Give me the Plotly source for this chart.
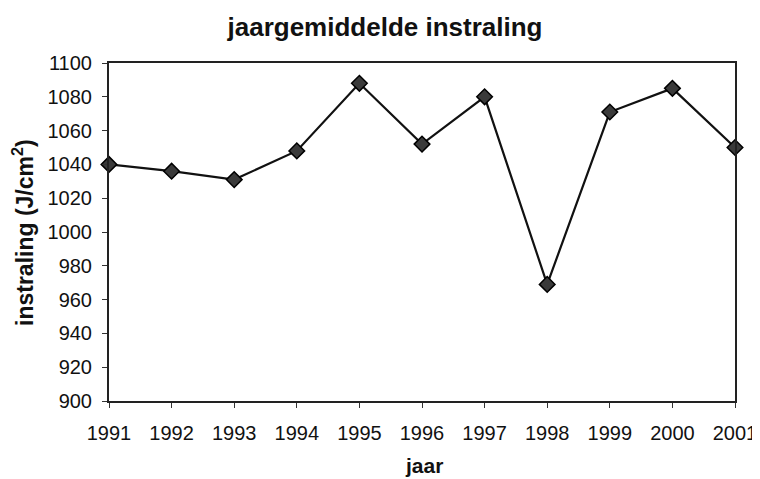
import plotly.graph_objects as go

years = [1991, 1992, 1993, 1994, 1995, 1996, 1997, 1998, 1999, 2000, 2001]
instraling = [1040, 1036, 1031, 1048, 1088, 1052, 1080, 969, 1071, 1085, 1050]
y_ticks = [900, 920, 940, 960, 980, 1000, 1020, 1040, 1060, 1080, 1100]

FONT = "Liberation Sans, Arial, sans-serif"
# page has an 8px body margin: figure coordinates = screen - 8
OFF = 8
W, H = 760 - OFF, 479 - OFF
L, T = 109 - OFF, 63 - OFF
R = W - (735 - OFF)
B = H - (401 - OFF)
PW, PH = W - L - R, H - T - B


def px_x(sx):
    return (sx - OFF - L) / PW


def px_y(sy):
    return (H - B - (sy - OFF)) / PH


fig = go.Figure()
fig.add_trace(go.Scatter(
    x=years, y=instraling, mode="lines+markers",
    line=dict(color="#111111", width=2.2),
    marker=dict(symbol="diamond", size=12, color="#3a3a3a",
                line=dict(color="#000000", width=1.5)),
    cliponaxis=False, showlegend=False,
))

fig.update_layout(
    width=W, height=H,
    margin=dict(l=L, r=R, t=T, b=B, autoexpand=False),
    paper_bgcolor="white", plot_bgcolor="white",
    font=dict(family=FONT, color="#111111"),
    title=dict(text="<b>jaargemiddelde instraling</b>", x=(385 - OFF) / W, xanchor="center",
               y=1 - (27 - OFF) / H, yanchor="middle", font=dict(size=26, family=FONT, color="#111111")),
    annotations=[
        dict(text="<b>instraling (J/cm<sup>2</sup>)</b>", textangle=-90,
             xref="paper", yref="paper", x=px_x(23), y=px_y(233),
             xanchor="center", yanchor="middle", showarrow=False,
             font=dict(size=23, family=FONT, color="#111111")),
        dict(text="<b>jaar</b>", xref="paper", yref="paper",
             x=px_x(424), y=px_y(465), xanchor="center", yanchor="middle", showarrow=False,
             font=dict(size=21, family=FONT, color="#111111")),
    ],
)
fig.update_xaxes(
    range=[1991, 2001], tickvals=years, ticktext=[str(y) for y in years],
    ticks="outside", ticklen=5, tickcolor="#333", tickwidth=1, ticklabelstandoff=8,
    showline=True, linecolor="#222", linewidth=2, mirror=True,
    showgrid=False, zeroline=False, automargin=False,
    tickfont=dict(size=20, family=FONT, color="#111111"),
)
fig.update_yaxes(
    range=[900, 1100], tickvals=y_ticks,
    ticks="outside", ticklen=5, tickcolor="#333", tickwidth=1, ticklabelstandoff=6,
    showline=True, linecolor="#222", linewidth=2, mirror=True,
    showgrid=False, zeroline=False, automargin=False,
    tickfont=dict(size=20, family=FONT, color="#111111"),
)

fig.write_html("out.html")
